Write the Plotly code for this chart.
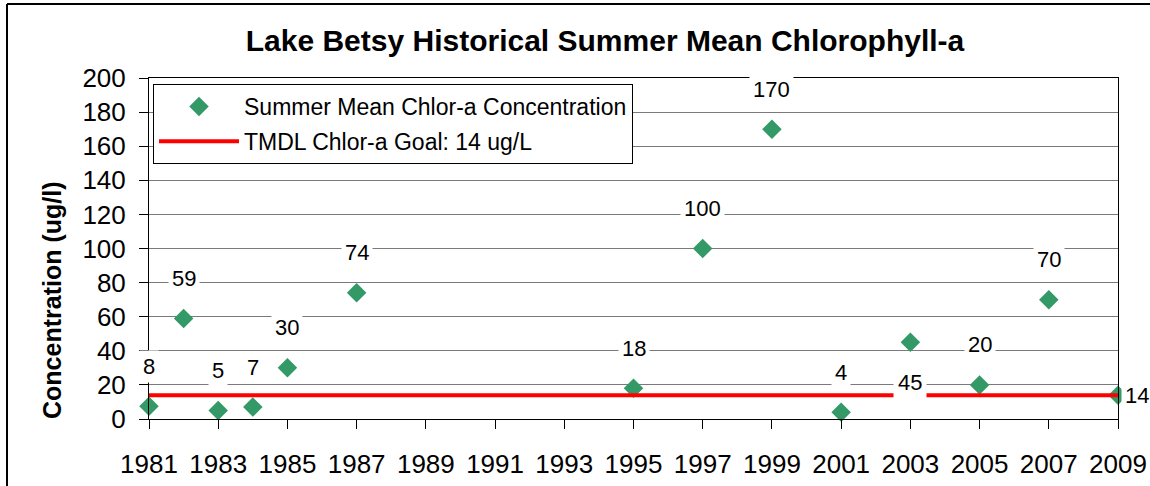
import plotly.graph_objects as go

# ---- data ----
years = [1981, 1982, 1983, 1984, 1985, 1987, 1995, 1997, 1999, 2001, 2003, 2005, 2007, 2009]
chlor_a = [7.5, 59, 5, 7, 30, 74, 18, 100, 170, 4, 45, 20, 70, 14]
point_labels = ["8", "59", "5", "7", "30", "74", "18", "100", "170", "4", "45", "20", "70", "14"]
goal_years = [1981, 2009]
goal_values = [14, 14]
x_ticks = list(range(1981, 2010, 2))
y_ticks = list(range(0, 201, 20))

FONT = "Liberation Sans, Arial, sans-serif"
GREEN = "#339966"

# plot area in pixels
W, H = 1150, 486
L, R, T, B = 149, 1118, 78, 419

def px_x(px):
    return (px - L) / (R - L)

def px_y(py):
    return (B - py) / (B - T)

fig = go.Figure()

fig.add_trace(go.Scatter(
    x=years, y=chlor_a, mode="markers",
    name="Summer Mean Chlor-a Concentration",
    marker=dict(symbol="diamond", size=15, color=GREEN),
    cliponaxis=False, legendgroup="a",
))
fig.add_trace(go.Scatter(
    x=goal_years, y=goal_values, mode="lines",
    name="TMDL Chlor-a Goal: 14 ug/L",
    line=dict(color="#ff0000", width=4),
    legendgroup="b",
))

annotations = []
for yr, v, lab in zip(years, chlor_a, point_labels):
    xshift, yshift, pad = 0, 40, 3
    if yr == 2003:
        yshift, pad = -40, 4
    if yr == 2009:
        xshift, yshift = 19, 0
    annotations.append(dict(
        x=yr, y=v, xref="x", yref="y", text=lab, showarrow=False,
        xshift=xshift, yshift=yshift,
        font=dict(family=FONT, size=22, color="black"),
        bgcolor="white", borderpad=pad,
    ))

annotations.append(dict(
    x=px_x(52), y=px_y(301), xref="paper", yref="paper",
    text="<b>Concentration (ug/l)</b>", textangle=-90, showarrow=False,
    font=dict(family=FONT, size=25, color="black"),
    xanchor="center", yanchor="middle",
))

shapes = [
    dict(type="line", xref="paper", yref="paper",
         x0=px_x(7), x1=px_x(1152), y0=px_y(4), y1=px_y(4),
         line=dict(color="black", width=2)),
    dict(type="line", xref="paper", yref="paper",
         x0=px_x(7), x1=px_x(7), y0=px_y(4), y1=px_y(490),
         line=dict(color="black", width=2)),
]

fig.update_layout(
    width=W, height=H, autosize=False,
    margin=dict(l=L, r=W - R, t=T, b=H - B, autoexpand=False),
    paper_bgcolor="white", plot_bgcolor="white",
    font=dict(family=FONT, color="black"),
    title=dict(
        text="<b>Lake Betsy Historical Summer Mean Chlorophyll-a</b>",
        x=px_x(605), xref="paper", xanchor="center",
        y=1 - 40 / H, yref="container", yanchor="middle",
        font=dict(family=FONT, size=30, color="black"),
    ),
    showlegend=True,
    legend=dict(
        x=px_x(153), y=px_y(84), xanchor="left", yanchor="top",
        bgcolor="white", bordercolor="black", borderwidth=1,
        font=dict(family=FONT, size=23, color="black"),
        itemwidth=80, traceorder="grouped", tracegroupgap=2,
    ),
    annotations=annotations,
    shapes=shapes,
)

fig.update_xaxes(
    range=[1981, 2009], tickmode="array", tickvals=x_ticks,
    ticktext=[str(t) for t in x_ticks], automargin=False,
    showgrid=False, zeroline=False,
    showline=True, linecolor="black", linewidth=1, mirror=True,
    ticks="outside", ticklen=9, tickcolor="black",
    tickfont=dict(family=FONT, size=26, color="black"),
    ticklabelstandoff=13,
)
fig.update_yaxes(
    range=[0, 200], tickmode="array", tickvals=y_ticks, automargin=False,
    showgrid=True, gridcolor="#7a7a7a", gridwidth=1, zeroline=False,
    showline=True, linecolor="black", linewidth=1, mirror=True,
    ticks="outside", ticklen=9, tickcolor="black",
    tickfont=dict(family=FONT, size=26, color="black"),
    ticklabelstandoff=8,
)

fig.write_html(
    "out.html",
    config={"displayModeBar": False},
    post_script="document.documentElement.style.margin='0';"
                "document.body.style.margin='0';"
                "document.body.style.overflow='hidden';",
)
